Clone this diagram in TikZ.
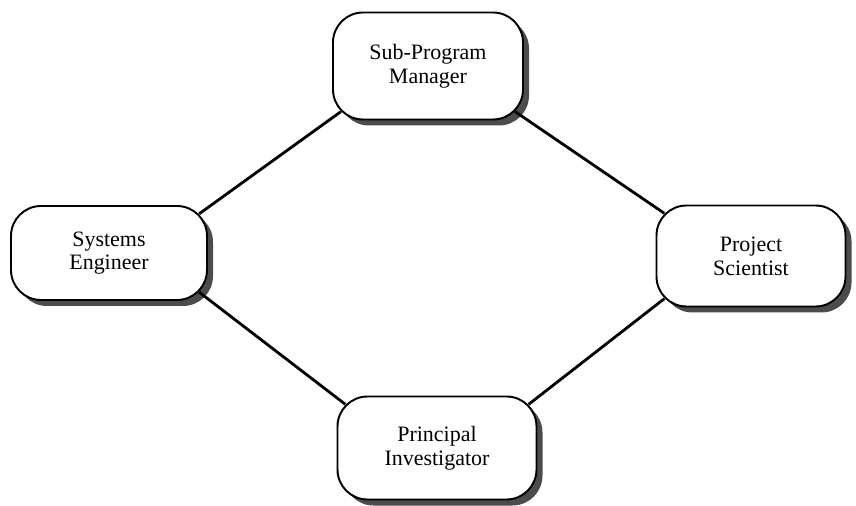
\documentclass[tikz,border=0pt]{standalone}
\usepackage{fontspec}
\setmainfont{Liberation Serif}
\usetikzlibrary{calc,shadows}
\newcommand{\crn}{0.176}

\begin{document}
\begin{tikzpicture}[
    role/.style={draw, line width=1.1pt, rounded corners=0.6cm, fill=white,
        align=center, inner sep=0pt, font=\fontsize{12.5}{13.5}\selectfont,
        drop shadow={shadow xshift=0.12cm, shadow yshift=-0.12cm, fill=black, opacity=0.7}},
    link/.style={line width=1.6pt}
]
    \useasboundingbox (0,0) rectangle (17.12,10.1);

    % Roles
    \node[role, minimum width=3.8cm, minimum height=2.14cm] (spm) at (8.56,8.78) {Sub-Program\\Manager};
    \node[role, minimum width=3.92cm, minimum height=1.88cm] (se) at (2.18,5.04) {Systems\\Engineer};
    \node[role, minimum width=3.78cm, minimum height=2.02cm] (ps) at (15.02,4.98) {Project\\Scientist};
    \node[role, minimum width=3.98cm, minimum height=2.06cm] (pi) at (8.74,1.14) {Principal\\Investigator};

    % Links between roles
    \draw[link] ($(se.north east)+(-\crn,-\crn)$) -- ($(spm.south west)+(\crn,\crn)$);
    \draw[link] ($(spm.south east)+(-\crn,\crn)$) -- ($(ps.north west)+(\crn,-\crn)$);
    \draw[link] ($(se.south east)+(-\crn,\crn)$) -- ($(pi.north west)+(\crn,-\crn)$);
    \draw[link] ($(pi.north east)+(-\crn,-\crn)$) -- ($(ps.south west)+(\crn,\crn)$);
\end{tikzpicture}
\end{document}
